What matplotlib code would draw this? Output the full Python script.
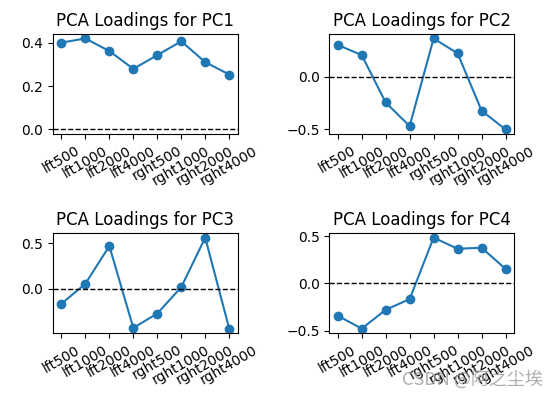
import matplotlib
matplotlib.use("Agg")
import matplotlib.pyplot as plt

features = ['lft500', 'lft1000', 'lft2000', 'lft4000',
            'rght500', 'rght1000', 'rght2000', 'rght4000']

pc1 = [0.400, 0.419, 0.361, 0.279, 0.342, 0.406, 0.310, 0.253]
pc2 = [0.306, 0.209, -0.245, -0.471, 0.368, 0.226, -0.323, -0.503]
pc3 = [-0.165, 0.055, 0.470, -0.430, -0.272, 0.018, 0.562, -0.438]
pc4 = [-0.342, -0.479, -0.280, -0.166, 0.485, 0.367, 0.378, 0.154]

loadings = [pc1, pc2, pc3, pc4]

fig, axes = plt.subplots(2, 2, figsize=(5.55, 3.99), dpi=100)
for i, ax in enumerate(axes.flat):
    ax.plot(features, loadings[i], marker='o')
    ax.axhline(0, color='black', linestyle='--', linewidth=1)
    ax.set_title(f'PCA Loadings for PC{i + 1}')
    ax.tick_params(axis='x', rotation=30)

plt.subplots_adjust(left=0.0955, right=0.926, top=0.915, bottom=0.165,
                    wspace=0.497, hspace=0.99)

fig.text(0.978, 0.048, 'CSDN @阿之尘埃', ha='right', va='center',
         fontsize=13, color='#a0a0a0', alpha=0.85,
         family=['Noto Sans CJK SC', 'DejaVu Sans'])

plt.savefig('out.png', dpi=100)
